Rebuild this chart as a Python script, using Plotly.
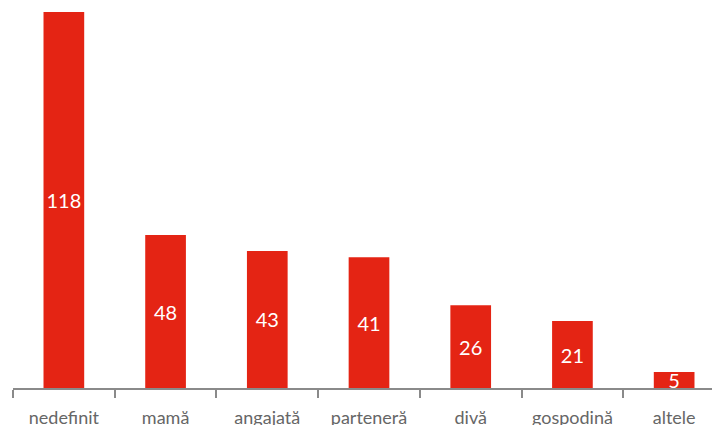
import plotly.graph_objects as go

categories = ["nedefinit", "mamă", "angajată", "parteneră", "divă", "gospodină", "altele"]
values = [118, 48, 43, 41, 26, 21, 5]

fig = go.Figure(go.Bar(
    x=categories, y=values,
    marker=dict(color="#e42414", line=dict(width=0)),
    text=[str(v) for v in values],
    textposition="inside", insidetextanchor="middle", textangle=0,
    constraintext="none",
    textfont=dict(color="white", size=20, family="Lato"),
    cliponaxis=False,
))

fig.update_layout(
    width=720, height=425,
    margin=dict(l=5, r=3, t=4, b=45, autoexpand=False),
    paper_bgcolor="white", plot_bgcolor="white",
    bargap=0.6,
    showlegend=False,
    font=dict(family="Lato", color="#666666"),
    uniformtext=dict(minsize=20, mode="show"),
)
fig.update_xaxes(
    type="category", range=[-0.5, 6.5], automargin=False,
    showline=True, linecolor="#8a8a8a", linewidth=2,
    ticks="outside", tickson="boundaries", ticklen=8, tickcolor="#8a8a8a", tickwidth=2,
    ticklabelstandoff=12,
    tickfont=dict(size=18, color="#666666", family="Lato"),
    showgrid=False, zeroline=False,
)
fig.update_yaxes(range=[0, 118], visible=False, showgrid=False, zeroline=False, automargin=False)

fig.write_html("out.html")
